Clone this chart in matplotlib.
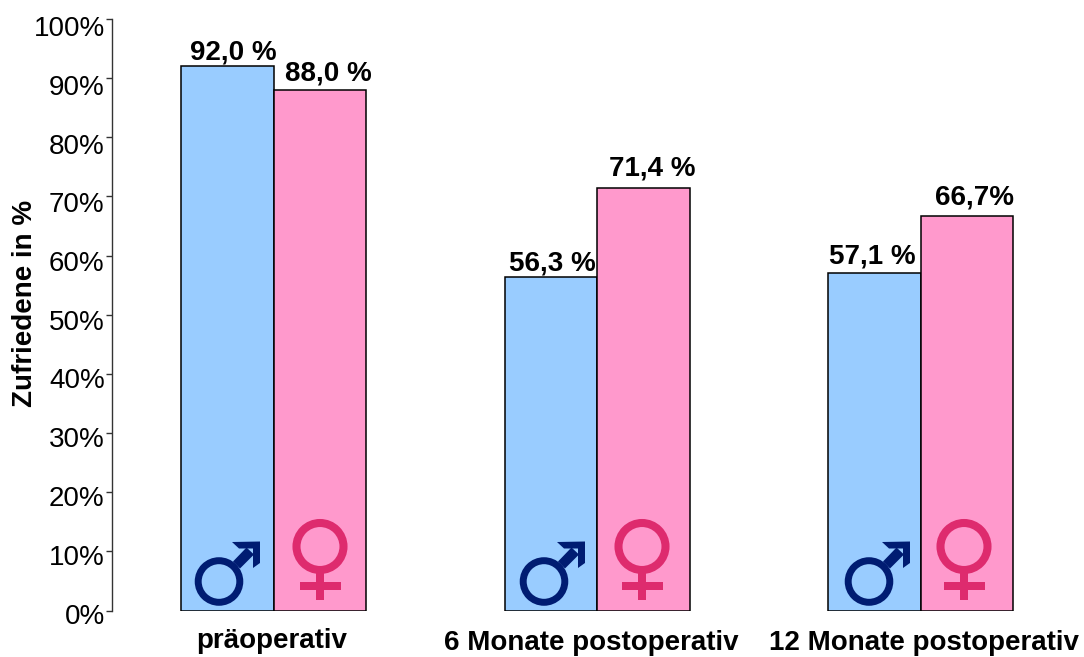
import matplotlib
matplotlib.use('Agg')
import matplotlib.pyplot as plt
from matplotlib.patches import Circle, Polygon, Rectangle
from matplotlib.transforms import IdentityTransform, ScaledTranslation
import numpy as np

plt.rcParams['font.family'] = ['Liberation Sans', 'DejaVu Sans']

categories = ['präoperativ', '6 Monate postoperativ', '12 Monate postoperativ']
maenner = [92.0, 56.3, 57.1]
frauen = [88.0, 71.4, 66.7]
maenner_labels = ['92,0 %', '56,3 %', '57,1 %']
frauen_labels = ['88,0 %', '71,4 %', '66,7%']
yticks = [0, 10, 20, 30, 40, 50, 60, 70, 80, 90, 100]

W, H = 1084, 657
BLUE = '#99CCFF'
PINK = '#FF99CC'
NAVY = '#001C72'
ROSE = '#DE2B6E'

fig = plt.figure(figsize=(W / 100, H / 100), dpi=100)
ax = fig.add_axes([112 / W, 1 - 610.5 / H, (W - 112) / W, 591.5 / H])

x = np.arange(len(categories))
width = 0.2855
ax.bar(x - width / 2, maenner, width, color=BLUE, edgecolor='black', linewidth=1.1)
ax.bar(x + width / 2, frauen, width, color=PINK, edgecolor='black', linewidth=1.1)

ax.set_xlim(-0.5, 2.505)
ax.set_ylim(0, 100)
ax.set_yticks(yticks)
ax.set_yticklabels([f'{t}%' for t in yticks], fontsize=20)
ax.set_xticks([])
ax.tick_params(axis='y', length=4.3, width=1, pad=1, color='#333333')
for s in ['top', 'right', 'bottom']:
    ax.spines[s].set_visible(False)
ax.spines['left'].set_linewidth(1)
ax.spines['left'].set_color('#333333')

# tick labels sit a little below their ticks, less so towards the bottom
for t, lab in zip(yticks, ax.get_yticklabels()):
    shift = -(3 + 4 * t / 100) / 100
    lab.set_transform(lab.get_transform() + ScaledTranslation(0, shift, fig.dpi_scale_trans))

fig.text(25 / W, 1 - 303 / H, 'Zufriedene in %', rotation=90, fontsize=20, fontweight='bold',
         ha='center', va='center')

# value labels, with small nudges per bar
for xi, v, txt, dx, dy in zip(x - width / 2, maenner, maenner_labels, [6, 1, -2], [7, 7, 9]):
    ax.annotate(txt, (xi, v), xytext=(dx, dy), textcoords='offset pixels', ha='center',
                va='baseline', fontsize=20, fontweight='bold')
for xi, v, txt, dx, dy in zip(x + width / 2, frauen, frauen_labels, [8, 9, 8], [9, 13, 11]):
    ax.annotate(txt, (xi, v), xytext=(dx, dy), textcoords='offset pixels', ha='center',
                va='baseline', fontsize=20, fontweight='bold')

# category labels under the groups, baseline kept high enough for the descenders
for cat, cx, cy in zip(categories, [272, 591, 924], [648, 650, 650]):
    fig.text(cx / W, 1 - cy / H, cat, fontsize=20, fontweight='bold', ha='center', va='baseline')


def add_patch(p):
    p.set_transform(IdentityTransform())
    fig.add_artist(p)


def male_symbol(cx, cy):
    # cx, cy are the ring centre in pixels from the top left
    py = H - cy
    add_patch(Circle((cx, py), 20.8, fill=False, edgecolor=NAVY, linewidth=5.0))
    add_patch(Polygon([(cx + 14, py + 20), (cx + 21, py + 13), (cx + 35, py + 27), (cx + 27.5, py + 34)],
                      closed=True, color=NAVY, linewidth=0))
    add_patch(Polygon([(cx + 41, py + 40), (cx + 13, py + 39.5), (cx + 20, py + 33), (cx + 34, py + 33),
                       (cx + 34, py + 13.5), (cx + 41, py + 18.5)], closed=True, color=NAVY, linewidth=0))


def female_symbol(cx, cy):
    py = H - cy
    add_patch(Circle((cx, py), 23.5, fill=False, edgecolor=ROSE, linewidth=5.8))
    add_patch(Rectangle((cx - 4, py - 53), 8, 30, color=ROSE, linewidth=0))
    add_patch(Rectangle((cx - 20.5, py - 43), 41, 8, color=ROSE, linewidth=0))


for cx in [219, 544, 869]:
    male_symbol(cx, 581.5)
for cx in [320, 642, 964]:
    female_symbol(cx, 546.5)

fig.savefig('out.png', dpi=100)
